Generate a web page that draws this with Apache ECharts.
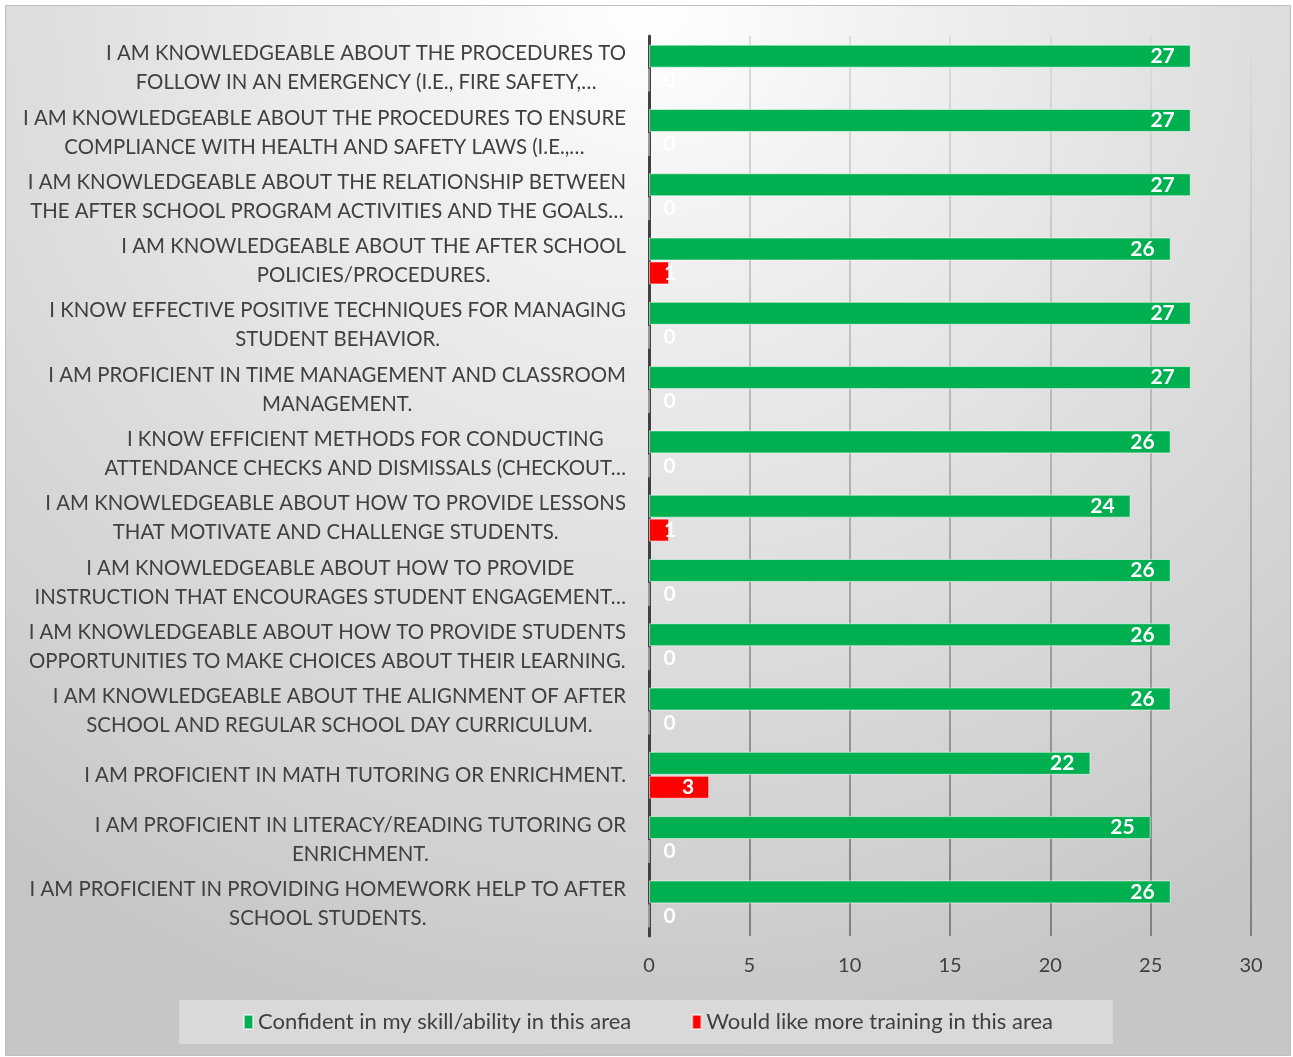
<!DOCTYPE html>
<html>
<head>
<meta charset="utf-8">
<script src="https://cdn.jsdelivr.net/npm/echarts@6/dist/echarts.min.js"></script>
<style>
    body { margin: 0; background: #fff; }
    #bar1 { position: absolute; left: 5px; top: 5px; width: 1284px; height: 1049px; border: 1px solid #bfbfbf; }
</style>
</head>
<body>
<div id="bar1"></div>
<script>
// 类目（自上而下）
var categories = [
    'I AM KNOWLEDGEABLE ABOUT THE PROCEDURES TO\nFOLLOW IN AN EMERGENCY (I.E., FIRE SAFETY,…',
    'I AM KNOWLEDGEABLE ABOUT THE PROCEDURES TO ENSURE\nCOMPLIANCE WITH HEALTH AND SAFETY LAWS (I.E.,…',
    'I AM KNOWLEDGEABLE ABOUT THE RELATIONSHIP BETWEEN\nTHE AFTER SCHOOL PROGRAM ACTIVITIES AND THE GOALS…',
    'I AM KNOWLEDGEABLE ABOUT THE AFTER SCHOOL\nPOLICIES/PROCEDURES.',
    'I KNOW EFFECTIVE POSITIVE TECHNIQUES FOR MANAGING\nSTUDENT BEHAVIOR.',
    'I AM PROFICIENT IN TIME MANAGEMENT AND CLASSROOM\nMANAGEMENT.',
    'I KNOW EFFICIENT METHODS FOR CONDUCTING\nATTENDANCE CHECKS AND DISMISSALS (CHECKOUT…',
    'I AM KNOWLEDGEABLE ABOUT HOW TO PROVIDE LESSONS\nTHAT MOTIVATE AND CHALLENGE STUDENTS.',
    'I AM KNOWLEDGEABLE ABOUT HOW TO PROVIDE\nINSTRUCTION THAT ENCOURAGES STUDENT ENGAGEMENT…',
    'I AM KNOWLEDGEABLE ABOUT HOW TO PROVIDE STUDENTS\nOPPORTUNITIES TO MAKE CHOICES ABOUT THEIR LEARNING.',
    'I AM KNOWLEDGEABLE ABOUT THE ALIGNMENT OF AFTER\nSCHOOL AND REGULAR SCHOOL DAY CURRICULUM.',
    'I AM PROFICIENT IN MATH TUTORING OR ENRICHMENT.',
    'I AM PROFICIENT IN LITERACY/READING TUTORING OR\nENRICHMENT.',
    'I AM PROFICIENT IN PROVIDING HOMEWORK HELP TO AFTER\nSCHOOL STUDENTS.'
];

var seriesNames = ['Confident in my skill/ability in this area', 'Would like more training in this area'];
var confident = [27, 27, 27, 26, 27, 27, 26, 24, 26, 26, 26, 22, 25, 26];
var training = [0, 0, 0, 1, 0, 0, 0, 1, 0, 0, 0, 3, 0, 0];
var xTicks = [0, 5, 10, 15, 20, 25, 30];

var FONT = 'Lato';

(function () {
    var bar1 = echarts.init(document.getElementById('bar1'));

    // 小值的标签放在柱子左侧
    var trainingData = training.map(function (v) {
        return {
            value: v,
            label: v < 2 ? {position: 'insideLeft', distance: 15} : {position: 'insideRight', distance: 15}
        };
    });

    var option = {
        backgroundColor: new echarts.graphic.RadialGradient(0.5, 0, 1, [
            {offset: 0, color: '#ffffff'},
            {offset: 0.26, color: '#efefef'},
            {offset: 0.48, color: '#e3e3e3'},
            {offset: 0.86, color: '#cfcfcf'},
            {offset: 1, color: '#c6c6c6'}
        ]),
        textStyle: {fontFamily: FONT},
        animation: false,
        grid: {
            left: 643,
            right: 39,
            top: 30,
            bottom: 119
        },
        legend: {
            bottom: 11,
            left: 'center',
            data: seriesNames,
            backgroundColor: '#d9d9d9',
            padding: [11, 60, 11, 64],
            itemGap: 60,
            itemWidth: 9,
            itemHeight: 14,
            icon: 'rect',
            textStyle: {fontSize: 22, color: '#404040', fontFamily: FONT}
        },
        xAxis: {
            type: 'value',
            min: xTicks[0],
            max: xTicks[xTicks.length - 1],
            interval: 5,
            axisLine: {show: false},
            axisTick: {show: false},
            axisLabel: {fontSize: 20, color: '#404040', margin: 20, fontFamily: FONT},
            splitLine: {
                lineStyle: {
                    width: 2,
                    color: new echarts.graphic.LinearGradient(0, 0, 0, 1, [
                        {offset: 0, color: '#dddddd'},
                        {offset: 0.5, color: '#b0b0b0'},
                        {offset: 1, color: '#7f7f7f'}
                    ])
                }
            }
        },
        yAxis: {
            type: 'category',
            inverse: true,
            data: categories,
            axisLine: {show: true, lineStyle: {color: '#404040', width: 3}},
            axisTick: {show: false},
            axisLabel: {
                margin: 23,
                formatter: function (val) {
                    return val.split('\n').map(function (s) {
                        return '{c|' + s + '}';
                    }).join('\n');
                },
                rich: {
                    c: {align: 'center', fontSize: 20.4, lineHeight: 29, color: '#404040', fontFamily: FONT}
                }
            }
        },
        series: [
            {
                name: seriesNames[0],
                type: 'bar',
                data: confident,
                barWidth: 23,
                barGap: '4%',
                itemStyle: {color: '#00b050', borderColor: 'rgba(255,255,255,0.55)', borderWidth: 1},
                label: {
                    show: true,
                    position: 'insideRight',
                    distance: 16,
                    color: '#fff',
                    fontWeight: 'bold',
                    fontSize: 21,
                    fontFamily: FONT
                }
            },
            {
                name: seriesNames[1],
                type: 'bar',
                data: trainingData,
                barWidth: 23,
                itemStyle: {color: '#ff0000', borderColor: 'rgba(255,255,255,0.55)', borderWidth: 1},
                label: {
                    show: true,
                    color: '#fff',
                    fontWeight: 'bold',
                    fontSize: 21,
                    fontFamily: FONT
                }
            }
        ]
    };

    bar1.setOption(option);
})();
</script>
</body>
</html>
